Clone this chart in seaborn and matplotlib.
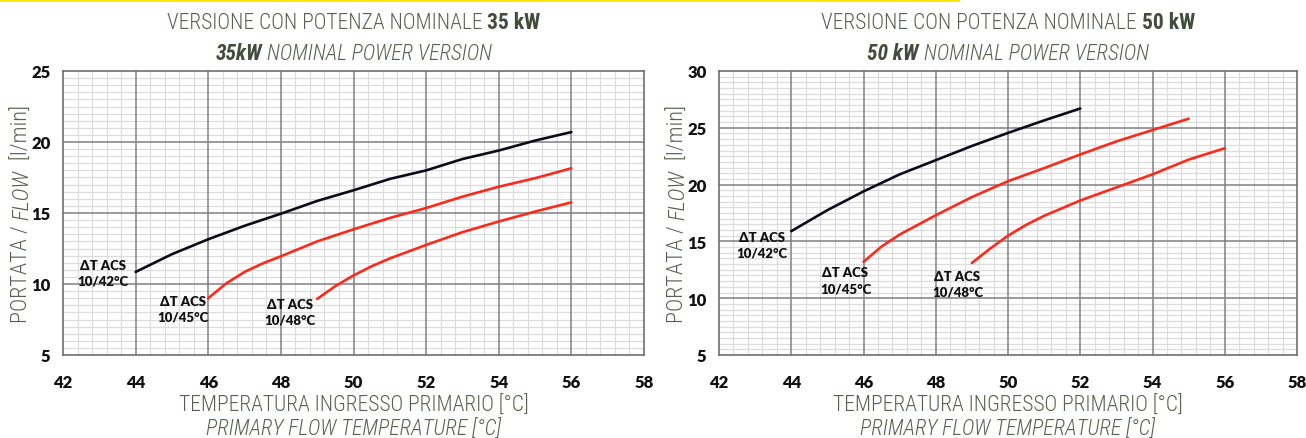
import numpy as np
import pandas as pd
import matplotlib
matplotlib.use("Agg")
import matplotlib.pyplot as plt
from matplotlib.patches import Rectangle
from matplotlib.ticker import MultipleLocator
from matplotlib.transforms import IdentityTransform
import seaborn as sns
from matplotlib import font_manager

# --- data ---
x35_42 = [44, 45, 46, 47, 48, 49, 50, 51, 52, 53, 54, 55, 56]
y35_42 = [10.85, 12.1, 13.15, 14.1, 14.95, 15.85, 16.6, 17.4, 18.0, 18.8, 19.4, 20.1, 20.7]
x35_45 = [46, 46.5, 47, 47.5, 48, 49, 50, 51, 52, 53, 54, 55, 56]
y35_45 = [9.0, 10.05, 10.85, 11.45, 11.95, 13.0, 13.85, 14.65, 15.35, 16.15, 16.85, 17.45, 18.15]
x35_48 = [49, 49.5, 50, 50.5, 51, 52, 53, 54, 55, 56]
y35_48 = [8.95, 9.85, 10.6, 11.25, 11.8, 12.75, 13.65, 14.4, 15.1, 15.75]

x50_42 = [44, 45, 46, 47, 48, 49, 50, 51, 52]
y50_42 = [15.9, 17.75, 19.4, 20.9, 22.15, 23.4, 24.55, 25.65, 26.7]
x50_45 = [46, 46.5, 47, 48, 49, 50, 51, 52, 53, 54, 55]
y50_45 = [13.2, 14.55, 15.6, 17.3, 18.9, 20.3, 21.45, 22.65, 23.8, 24.8, 25.8]
x50_48 = [49, 49.5, 50, 50.5, 51, 52, 53, 54, 55, 56]
y50_48 = [13.1, 14.35, 15.5, 16.45, 17.25, 18.6, 19.75, 20.9, 22.2, 23.2]

curve_names = ["10/42°C", "10/45°C", "10/48°C"]
x_ticks = [42, 44, 46, 48, 50, 52, 54, 56, 58]
y_ticks_35 = [5, 10, 15, 20, 25]
y_ticks_50 = [5, 10, 15, 20, 25, 30]

# label positions (data coords) for the "ΔT ACS" notes
notes_35 = [(43.1, 10.8), (45.3, 8.25), (48.25, 8.05)]
notes_50 = [(43.2, 14.7), (45.5, 11.6), (48.6, 11.25)]

palette = {"10/42°C": "#0b0b1c", "10/45°C": "#fb2a1c", "10/48°C": "#fb2a1c"}

sns.set_style("white")
avail = {f.name for f in font_manager.fontManager.ttflist}
cond = "Roboto Condensed" if "Roboto Condensed" in avail else "Roboto"
plt.rcParams["font.family"] = ["Lato", "DejaVu Sans"]

label_col = "#56624f"
dark_col = "#414c3d"

W, H = 1306, 439
fig = plt.figure(figsize=(W / 100, H / 100), dpi=100)
fig.patch.set_facecolor("white")

def make_df(xs, ys):
    rows = []
    for name, x, y in zip(curve_names, xs, ys):
        rows.append(pd.DataFrame({"temp": x, "flow": y, "curve": name}))
    return pd.concat(rows, ignore_index=True)

df35 = make_df([x35_42, x35_45, x35_48], [y35_42, y35_45, y35_48])
df50 = make_df([x50_42, x50_45, x50_48], [y50_42, y50_45, y50_48])

ax1 = fig.add_axes([63 / W, 1 - 356 / H, 581 / W, 284 / H])
ax2 = fig.add_axes([719 / W, 1 - 356 / H, 578 / W, 284 / H])

for ax, df, yt, notes in [(ax1, df35, y_ticks_35, notes_35), (ax2, df50, y_ticks_50, notes_50)]:
    sns.lineplot(data=df, x="temp", y="flow", hue="curve", palette=palette,
                 linewidth=1.9, legend=False, ax=ax, sort=True, zorder=5)
    ax.set_xlim(x_ticks[0], x_ticks[-1])
    ax.set_ylim(yt[0], yt[-1])
    ax.set_xticks(x_ticks, labels=[str(v) for v in x_ticks])
    ax.set_yticks(yt, labels=[str(v) for v in yt])
    ax.xaxis.set_minor_locator(MultipleLocator(0.4))
    ax.yaxis.set_minor_locator(MultipleLocator(0.5))
    # light minor grid underneath, darker major grid drawn on top of it
    ax.grid(which="minor", color="#dcdcdc", linewidth=0.9)
    ax.grid(which="major", visible=False)
    ax.set_axisbelow(True)
    for v in x_ticks[1:-1]:
        ax.axvline(v, color="#808080", linewidth=1.1, zorder=1.5)
    for v in yt[1:-1]:
        ax.axhline(v, color="#808080", linewidth=1.1, zorder=1.5)
    ax.tick_params(which="both", length=0)
    ax.tick_params(axis="x", pad=14, labelsize=12, labelcolor="#111111")
    ax.tick_params(axis="y", pad=9, labelsize=12, labelcolor="#111111")
    plt.setp(ax.get_xticklabels() + ax.get_yticklabels(), fontweight="heavy")
    for sp in ax.spines.values():
        sp.set_color("#6e6e6e")
        sp.set_linewidth(1.2)
        sp.set_zorder(2)
    ax.set_xlabel("")
    ax.set_ylabel("")
    for (nx, ny), name in zip(notes, curve_names):
        ax.text(nx, ny, "ΔT ACS\n" + name, ha="center", va="center",
                fontsize=9.5, fontweight="heavy", color="#111111",
                linespacing=1.4, zorder=6)

# yellow strip at the top edge
fig.patches.append(Rectangle((0, 1 - 3 / H), 960 / W, 3 / H, transform=fig.transFigure,
                             facecolor="#ffe800", edgecolor="none"))

renderer = fig.canvas.get_renderer()

def rich_h(xc, y, parts, size):
    texts = []
    for s, weight, style, col in parts:
        t = fig.text(0, y, s, transform=IdentityTransform(), ha="left", va="baseline",
                     fontsize=size, fontweight=weight, fontstyle=style, color=col,
                     family=[cond, "DejaVu Sans"])
        texts.append(t)
    gap = size * 0.3
    widths = [t.get_window_extent(renderer).width for t in texts]
    total = sum(widths) + gap * (len(texts) - 1)
    x = xc - total / 2
    for t, w in zip(texts, widths):
        t.set_x(x)
        x += w + gap

def rich_v(x, yc, parts, size):
    texts = []
    for s, weight, style, col in parts:
        t = fig.text(x, 0, s, transform=IdentityTransform(), ha="center", va="bottom",
                     rotation=90, fontsize=size, fontweight=weight, fontstyle=style,
                     color=col, family=[cond, "DejaVu Sans"])
        texts.append(t)
    gap = size * 0.3
    heights = [t.get_window_extent(renderer).height for t in texts]
    total = sum(heights) + gap * (len(texts) - 1)
    y = yc - total / 2
    for t, h in zip(texts, heights):
        t.set_y(y)
        y += h + gap

fs = 15.5 if cond == "Roboto Condensed" else 13
for ax_l, ax_w, kw in [(63, 581, "35 kW"), (719, 578, "50 kW")]:
    xc = ax_l + ax_w / 2
    kw2 = "35kW" if kw == "35 kW" else "50 kW"
    rich_h(xc, H - 29, [("VERSIONE CON POTENZA NOMINALE", "light", "normal", label_col),
                        (kw, "bold", "normal", dark_col)], fs)
    rich_h(xc, H - 60, [(kw2, "bold", "italic", dark_col),
                        ("NOMINAL POWER VERSION", "light", "italic", label_col)], fs)
    rich_h(xc, H - 412, [("TEMPERATURA INGRESSO PRIMARIO [°C]", "light", "normal", label_col)], fs)
    rich_h(xc, H - 436, [("PRIMARY FLOW TEMPERATURE [°C]", "light", "italic", label_col)], fs)
    rich_v(ax_l - 41, H - 214, [("PORTATA /", "light", "normal", label_col),
                                ("FLOW", "light", "italic", label_col),
                                (" [l/min]", "light", "normal", label_col)], fs + 0.5)

fig.savefig("out.png", dpi=100, facecolor="white")
